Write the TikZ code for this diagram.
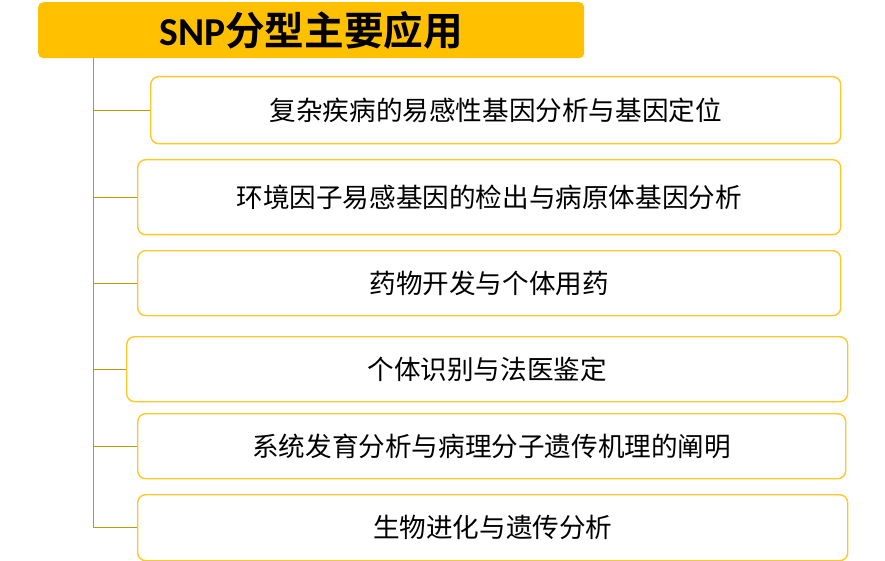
\documentclass[tikz,border=0pt]{standalone}
\usepackage{fontspec}
\setmainfont{Noto Sans CJK SC}
\newfontfamily\titlefont{Noto Sans CJK SC Bold}
\newfontfamily\snpfont{Carlito}
\definecolor{gold}{RGB}{255,192,0}
\definecolor{boxline}{RGB}{255,200,40}
\definecolor{spinecol}{RGB}{200,150,0}
\tikzset{
  itembox/.style={draw=boxline,line width=1.4pt,rounded corners=8pt,fill=white,
    anchor=north west,inner sep=0pt,font=\fontsize{26.6}{30}\selectfont},
  spine/.style={draw=spinecol,line width=1pt}
}

\begin{document}
\begin{tikzpicture}[x=1pt,y=-1pt]
            \useasboundingbox (0,0) rectangle (885,561);
            \node[fill=gold,rounded corners=5pt,anchor=north west,minimum width=546pt,minimum height=56pt,inner sep=0pt,
                  font=\fontsize{39.6}{44}\selectfont] (title) at (38,2) {{\snpfont\bfseries SNP}\titlefont 分型主要应用};
            \coordinate (top) at (93,58);
            \node[itembox,minimum width=690pt,minimum height=67pt] (i1) at (150,76) {复杂疾病的易感性基因分析与基因定位};
            \node[itembox,minimum width=703pt,minimum height=75pt] (i2) at (137,159) {环境因子易感基因的检出与病原体基因分析};
            \node[itembox,minimum width=703pt,minimum height=65pt] (i3) at (137,250) {药物开发与个体用药};
            \node[itembox,minimum width=721pt,minimum height=65pt] (i4) at (126,336) {个体识别与法医鉴定};
            \node[itembox,minimum width=708pt,minimum height=65pt] (i5) at (137,413) {系统发育分析与病理分子遗传机理的阐明};
            \node[itembox,minimum width=710pt,minimum height=66pt] (i6) at (137,494) {生物进化与遗传分析};
            \draw[spine] (top) -- (top |- i6.west);
            \draw[spine] (top |- i1.west) -- (i1.west);
            \draw[spine] (top |- i2.west) -- (i2.west);
            \draw[spine] (top |- i3.west) -- (i3.west);
            \draw[spine] (top |- i4.west) -- (i4.west);
            \draw[spine] (top |- i5.west) -- (i5.west);
            \draw[spine] (top |- i6.west) -- (i6.west);
        \end{tikzpicture}
\end{document}
